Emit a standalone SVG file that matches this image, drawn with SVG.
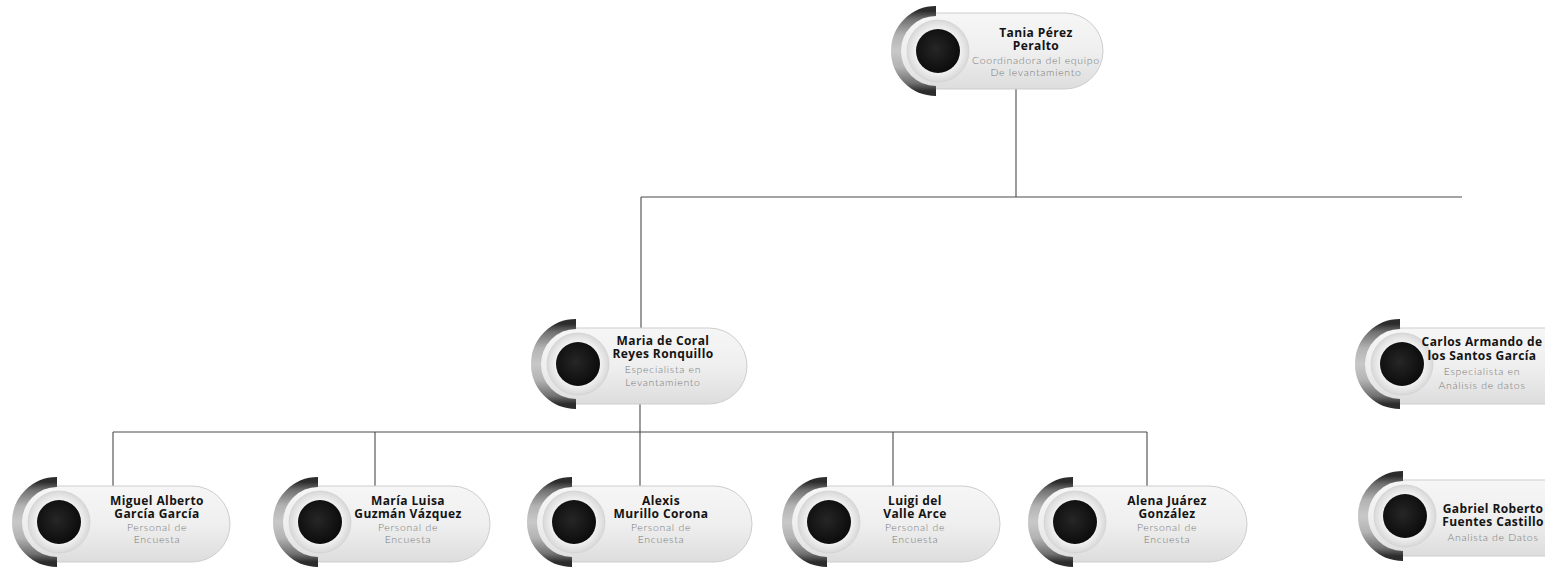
<svg xmlns="http://www.w3.org/2000/svg" xmlns:xlink="http://www.w3.org/1999/xlink" width="1545" height="571" viewBox="0 0 1545 571">
<style>
.bg{fill:#ffffff}
.pill{fill:url(#pillGrad);stroke:#cdcdcd;stroke-width:1}
.name{font-family:"Open Sans","Noto Sans",sans-serif;font-weight:700;font-size:12px;fill:#141414;text-anchor:middle;letter-spacing:0.4px}
.role{font-family:"Lato","Noto Sans",sans-serif;font-weight:300;font-size:10.5px;fill:#7a7a7a;text-anchor:middle;letter-spacing:0.7px}
.conn{stroke:#4a4a4a;stroke-width:1.1;fill:none}
</style>
<defs>
<linearGradient id="pillGrad" x1="0" y1="0" x2="0" y2="1">
<stop offset="0" stop-color="#f6f6f6"/>
<stop offset="0.5" stop-color="#efefef"/>
<stop offset="1" stop-color="#dddddd"/>
</linearGradient>
<linearGradient id="arcGrad" x1="0" y1="0" x2="0" y2="1">
<stop offset="0" stop-color="#2c2c2c"/>
<stop offset="0.1" stop-color="#707070"/>
<stop offset="0.3" stop-color="#b3b3b3"/>
<stop offset="0.5" stop-color="#c8c8c8"/>
<stop offset="0.7" stop-color="#b3b3b3"/>
<stop offset="0.9" stop-color="#707070"/>
<stop offset="1" stop-color="#2c2c2c"/>
</linearGradient>
<radialGradient id="ringGrad" cx="0.5" cy="0.5" r="0.5">
<stop offset="0.6" stop-color="#fbfbfb"/>
<stop offset="1" stop-color="#d8d8d8"/>
</radialGradient>
<radialGradient id="dotGrad" cx="0.45" cy="0.45" r="0.55">
<stop offset="0" stop-color="#262626"/>
<stop offset="1" stop-color="#0c0c0c"/>
</radialGradient>
<g id="badge">
<path d="M -2 -40 A 40 40 0 0 0 -2 40" fill="none" stroke="url(#arcGrad)" stroke-width="10"/>
<circle r="31" fill="url(#ringGrad)" stroke="#d2d2d2" stroke-width="0.8"/>
<circle r="22" fill="url(#dotGrad)"/>
</g>
</defs>
<rect class="bg" x="0" y="0" width="1545" height="571"/>

<g id="connectors">
<line class="conn" x1="1016" y1="89" x2="1016" y2="197"/>
<line class="conn" x1="641" y1="197" x2="1462" y2="197"/>
<line class="conn" x1="641" y1="197" x2="641" y2="329"/>
<line class="conn" x1="640" y1="400" x2="640" y2="432"/>
<line class="conn" x1="113" y1="432" x2="1147" y2="432"/>
<line class="conn" x1="113" y1="432" x2="113" y2="487"/>
<line class="conn" x1="375" y1="432" x2="375" y2="487"/>
<line class="conn" x1="640" y1="432" x2="640" y2="487"/>
<line class="conn" x1="893" y1="432" x2="893" y2="487"/>
<line class="conn" x1="1147" y1="432" x2="1147" y2="487"/>
</g>

<g id="node-tania">
<rect class="pill" x="900" y="13" width="203" height="76" rx="38"/>
<use xlink:href="#badge" href="#badge" x="938" y="51"/>
<text class="name" x="1036" y="37">Tania Pérez</text>
<text class="name" x="1036" y="50">Peralto</text>
<text class="role" x="1036" y="64">Coordinadora del equipo</text>
<text class="role" x="1036" y="76">De levantamiento</text>
</g>

<g id="node-maria-coral">
<rect class="pill" x="540" y="328" width="207" height="76" rx="38"/>
<use xlink:href="#badge" href="#badge" x="578" y="364"/>
<text class="name" x="663" y="345">Maria de Coral</text>
<text class="name" x="663" y="358">Reyes Ronquillo</text>
<text class="role" x="663" y="373">Especialista en</text>
<text class="role" x="663" y="386">Levantamiento</text>
</g>

<g id="node-carlos">
<rect class="pill" x="1364" y="328" width="220" height="76" rx="38"/>
<use xlink:href="#badge" href="#badge" x="1402" y="364"/>
<text class="name" x="1482" y="346">Carlos Armando de</text>
<text class="name" x="1482" y="360">los Santos García</text>
<text class="role" x="1482" y="375">Especialista en</text>
<text class="role" x="1482" y="389">Análisis de datos</text>
</g>

<g id="node-gabriel">
<rect class="pill" x="1367" y="480" width="220" height="76" rx="38"/>
<use xlink:href="#badge" href="#badge" x="1405" y="516"/>
<text class="name" x="1493" y="513">Gabriel Roberto</text>
<text class="name" x="1493" y="526">Fuentes Castillo</text>
<text class="role" x="1493" y="541">Analista de Datos</text>
</g>

<g id="node-miguel">
<rect class="pill" x="21" y="486" width="209" height="76" rx="38"/>
<use xlink:href="#badge" href="#badge" x="59" y="522"/>
<text class="name" x="157" y="505">Miguel Alberto</text>
<text class="name" x="157" y="518">García García</text>
<text class="role" x="157" y="531">Personal de</text>
<text class="role" x="157" y="543">Encuesta</text>
</g>

<g id="node-maria-luisa">
<rect class="pill" x="282" y="486" width="208" height="76" rx="38"/>
<use xlink:href="#badge" href="#badge" x="320" y="522"/>
<text class="name" x="408" y="505">María Luisa</text>
<text class="name" x="408" y="518">Guzmán Vázquez</text>
<text class="role" x="408" y="531">Personal de</text>
<text class="role" x="408" y="543">Encuesta</text>
</g>

<g id="node-alexis">
<rect class="pill" x="536" y="486" width="216" height="76" rx="38"/>
<use xlink:href="#badge" href="#badge" x="574" y="522"/>
<text class="name" x="661" y="505">Alexis</text>
<text class="name" x="661" y="518">Murillo Corona</text>
<text class="role" x="661" y="531">Personal de</text>
<text class="role" x="661" y="543">Encuesta</text>
</g>

<g id="node-luigi">
<rect class="pill" x="791" y="486" width="209" height="76" rx="38"/>
<use xlink:href="#badge" href="#badge" x="829" y="522"/>
<text class="name" x="915" y="505">Luigi del</text>
<text class="name" x="915" y="518">Valle Arce</text>
<text class="role" x="915" y="531">Personal de</text>
<text class="role" x="915" y="543">Encuesta</text>
</g>

<g id="node-alena">
<rect class="pill" x="1037" y="486" width="210" height="76" rx="38"/>
<use xlink:href="#badge" href="#badge" x="1075" y="522"/>
<text class="name" x="1167" y="505">Alena Juárez</text>
<text class="name" x="1167" y="518">González</text>
<text class="role" x="1167" y="531">Personal de</text>
<text class="role" x="1167" y="543">Encuesta</text>
</g>
</svg>
